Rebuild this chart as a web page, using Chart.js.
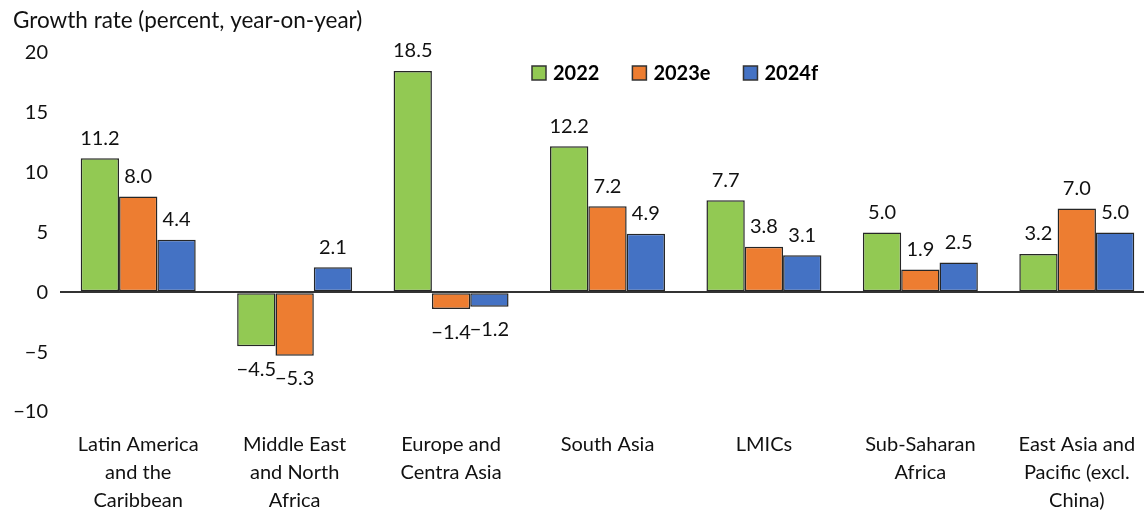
<!DOCTYPE html>
<html>
<head>
<meta charset="utf-8">
<script src="https://cdn.jsdelivr.net/npm/chart.js@4.4.0/dist/chart.umd.min.js"></script>
<style>
  html, body { margin: 0; padding: 0; background: #fff; overflow: hidden; }
  canvas { display: block; }
</style>
</head>
<body>
<canvas id="chartCroissance" width="1156" height="510"></canvas>
<script>
const categories = [
    ['Latin America', 'and the', 'Caribbean'],
    ['Middle East', 'and North', 'Africa'],
    ['Europe and', 'Centra Asia'],
    'South Asia',
    'LMICs',
    ['Sub-Saharan', 'Africa'],
    ['East Asia and', 'Pacific (excl.', 'China)']
]
const seriesNames = ['2022', '2023e', '2024f']
const values2022 = [11.2, -4.5, 18.5, 12.2, 7.7, 5.0, 3.2]
const values2023e = [8.0, -5.3, -1.4, 7.2, 3.8, 1.9, 7.0]
const values2024f = [4.4, 2.1, -1.2, 4.9, 3.1, 2.5, 5.0]
const yMin = -10
const yMax = 20
const yStep = 5
const axisTitle = 'Growth rate (percent, year-on-year)'

const colors = ['#92C953', '#ED7D31', '#4472C4']
const fontFamily = 'Lato, "Open Sans", sans-serif'
const textColor = '#111'

function minus(v, digits) {
    const s = Math.abs(v).toFixed(digits)
    return v < 0 ? '\u2212' + s : s
}

// titre de l'axe en haut a gauche
const axisTitlePlugin = {
    id: 'axisTitle',
    afterDraw(chart) {
        const ctx = chart.ctx
        ctx.save()
        ctx.font = '22.5px ' + fontFamily
        ctx.fillStyle = textColor
        ctx.textAlign = 'left'
        ctx.textBaseline = 'middle'
        ctx.fillText(axisTitle, 13, 21)
        ctx.restore()
    }
}

// etiquettes de valeurs au-dessus / en dessous des barres
const valueLabels = {
    id: 'valueLabels',
    afterDatasetsDraw(chart) {
        const ctx = chart.ctx
        ctx.save()
        ctx.font = '20px ' + fontFamily
        ctx.fillStyle = textColor
        ctx.textAlign = 'center'
        ctx.textBaseline = 'middle'
        chart.data.datasets.forEach((ds, i) => {
            const meta = chart.getDatasetMeta(i)
            meta.data.forEach((bar, j) => {
                const v = ds.data[j]
                const y = v >= 0 ? bar.y - 20 : bar.y + 23
                ctx.fillText(minus(v, 1), bar.x, y)
            })
        })
        ctx.restore()
    }
}

// legende dans la zone du graphique
const innerLegend = {
    id: 'innerLegend',
    afterDraw(chart) {
        const ctx = chart.ctx
        ctx.save()
        ctx.font = 'bold 20px ' + fontFamily
        ctx.textBaseline = 'middle'
        ctx.textAlign = 'left'
        let x = 532
        const y = 73
        chart.data.datasets.forEach(ds => {
            ctx.fillStyle = ds.backgroundColor
            ctx.fillRect(x, y - 7, 14, 14)
            ctx.strokeStyle = '#333'
            ctx.lineWidth = 1.5
            ctx.strokeRect(x, y - 7, 14, 14)
            ctx.fillStyle = '#000'
            ctx.fillText(ds.label, x + 21, y + 1)
            x += 21 + ctx.measureText(ds.label).width + 33
        })
        ctx.restore()
    }
}

const data = {
    labels: categories,
    datasets: [values2022, values2023e, values2024f].map((vals, i) => ({
        label: seriesNames[i],
        data: vals,
        backgroundColor: colors[i],
        borderColor: '#262626',
        borderWidth: 1.5,
        borderSkipped: false,
        categoryPercentage: 0.735,
        barPercentage: 1
    }))
}

const config = {
    type: 'bar',
    data,
    options: {
        responsive: false,
        animation: false,
        layout: {
            padding: { left: 12, top: 53, right: 1, bottom: 0 }
        },
        scales: {
            x: {
                grid: { display: false, drawTicks: false },
                border: { display: false },
                ticks: {
                    color: textColor,
                    font: { family: fontFamily, size: 20, lineHeight: 1.4 },
                    padding: 19,
                    maxRotation: 0,
                    autoSkip: false
                },
                afterFit(scale) { scale.height = 98 }
            },
            y: {
                min: yMin,
                max: yMax,
                border: { display: false },
                grid: {
                    drawTicks: false,
                    color: c => c.tick && c.tick.value === 0 ? '#333' : 'rgba(0,0,0,0)',
                    lineWidth: 2
                },
                ticks: {
                    stepSize: yStep,
                    color: textColor,
                    font: { family: fontFamily, size: 20 },
                    padding: 12,
                    callback: v => minus(v, 0)
                },
                afterFit(scale) { scale.width = 48 }
            }
        },
        plugins: {
            legend: { display: false },
            tooltip: { enabled: false }
        }
    },
    plugins: [axisTitlePlugin, valueLabels, innerLegend]
}

const myChart = new Chart(document.getElementById('chartCroissance'), config)
</script>
</body>
</html>
